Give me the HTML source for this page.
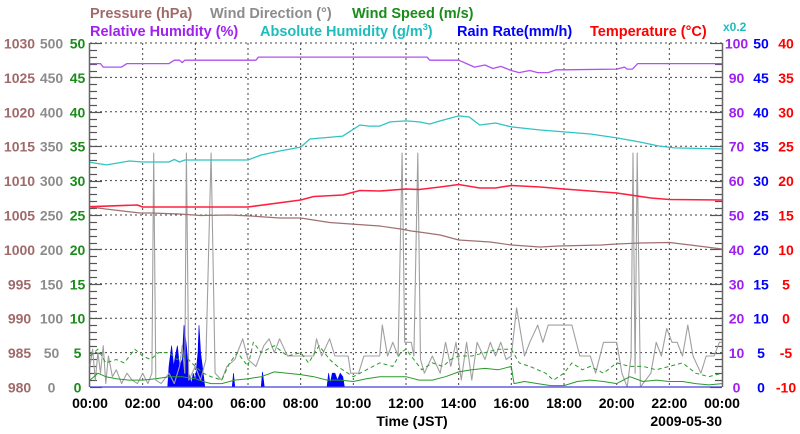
<!DOCTYPE html>
<html><head><meta charset="utf-8"><style>
html,body{margin:0;padding:0;background:#fff;}
svg{display:block;font-family:"Liberation Sans",Arial,sans-serif;font-weight:bold;}
</style></head><body>
<svg id="chart" width="800" height="434" viewBox="0 0 800 434" xmlns="http://www.w3.org/2000/svg">
<g font-size="14.5">
<text x="90" y="18" fill="#a06a6a">Pressure (hPa)</text>
<text x="210" y="18" fill="#8c8c8c">Wind Direction (°)</text>
<text x="352" y="18" fill="#1a8c1a">Wind Speed (m/s)</text>
</g>
<g font-size="14.5">
<text x="90" y="36" fill="#a020f0">Relative Humidity (%)</text>
<text x="260" y="36" fill="#20bcbc">Absolute Humidity (g/m<tspan font-size="9" dy="-6">3</tspan><tspan dy="6">)</tspan></text>
<text x="457" y="36" fill="#0000ff">Rain Rate(mm/h)</text>
<text x="590" y="36" fill="#ff0000">Temperature (°C)</text>
<text x="723" y="31" fill="#20bcbc" font-size="12">x0.2</text>
</g>
<g id="grid"></g>
<g id="ticks"></g>
<g id="series"></g>
<g id="labels" font-size="14"></g>
<text x="412" y="426" text-anchor="middle" font-size="14" fill="#000">Time (JST)</text>
<text x="722" y="426" text-anchor="end" font-size="14" fill="#000">2009-05-30</text>
</svg>
<script>
// ---- data ----
const timeTicks = ["00:00","02:00","04:00","06:00","08:00","10:00","12:00","14:00","16:00","18:00","20:00","22:00","00:00"];
const pressureTicks = [980,985,990,995,1000,1005,1010,1015,1020,1025,1030];
const windDirTicks = [0,50,100,150,200,250,300,350,400,450,500];
const windSpdTicks = [0,5,10,15,20,25,30,35,40,45,50];
const rhTicks = [0,10,20,30,40,50,60,70,80,90,100];
const rainTicks = [0,5,10,15,20,25,30,35,40,45,50];
const tempTicks = [-10,-5,0,5,10,15,20,25,30,35,40];

const rhTimes = [0,0.4,0.5,1.2,1.4,3.0,3.2,3.4,3.5,3.6,3.7,6.3,6.4,12.8,12.9,14.0,14.3,14.6,15.0,15.3,15.6,16.0,16.3,16.7,17.0,17.4,17.7,18.0,20.0,20.3,20.4,20.6,20.8,24];
const rhVals = [94.0,94.0,93.0,93.0,94.0,94.0,95.0,95.0,94.3,95.0,95.0,95.0,95.9,95.9,95.0,95.0,94.0,93.0,93.6,92.6,93.2,92.0,91.4,92.0,91.4,91.4,92.2,92.2,92.4,93.0,92.4,92.4,94.0,94.0];

const ahTimes = [0,0.63,1.5,2,3,3.2,3.4,3.6,6,6.5,7.2,8,8.35,9.6,10.25,10.6,11,11.4,12,12.5,12.9,13.3,14,14.4,14.8,15.4,16,17.1,18,19,20,20.9,21.6,22.2,24];
const ahVals = [13.06,12.91,13.14,13.08,13.08,13.23,13.08,13.20,13.20,13.49,13.72,13.95,14.42,14.59,15.23,15.17,15.17,15.41,15.47,15.41,15.29,15.47,15.76,15.70,15.23,15.35,15.12,14.94,14.83,14.71,14.48,14.24,14.01,13.90,13.84];

const tempTimes = [0,1.8,2.0,6,8,8.5,9.6,10.25,11,12,12.5,13.3,14,14.8,15.4,16,17.1,18,20,21.3,22,24];
const tempVals = [16.2,16.45,16.16,16.16,17.18,17.69,17.91,18.56,18.49,18.78,18.71,19.07,19.43,18.92,18.92,19.29,19.07,18.78,18.20,17.47,17.25,17.18];

const presTimes = [0,0.6,1.9,2.3,3.4,4.2,5.3,6.1,7.2,8,9.1,9.9,11,11.8,12.2,12.5,13.3,14,15.2,16,17.1,17.8,19.4,20,20.9,22,22.8,24];
const presVals = [1006.16,1005.87,1005.29,1005.29,1005.15,1004.93,1005.0,1004.85,1004.56,1004.56,1003.91,1003.69,1003.40,1002.97,1002.67,1002.53,1002.09,1001.37,1001.08,1000.64,1000.35,1000.49,1000.64,1000.78,1000.93,1001.0,1000.64,1000.06];

const wdTimes = [0,0.1,0.2,0.3,0.4,0.5,0.6,0.7,0.85,1.0,1.2,1.4,1.6,1.8,2.0,2.2,2.35,2.42,2.5,2.7,3.0,3.2,3.4,3.5,3.6,3.66,3.75,4.0,4.2,4.4,4.6,4.75,5.0,5.2,5.5,5.8,6.0,6.3,6.6,6.8,7.0,7.2,7.5,8.5,8.6,8.8,9.1,9.3,9.8,9.9,10.2,10.4,11.0,11.1,11.3,11.5,11.7,11.85,11.95,12.2,12.3,12.45,12.55,12.7,13.0,13.3,13.5,13.7,13.9,14.1,14.3,14.5,14.7,15.0,15.2,15.4,15.6,15.8,16.0,16.2,16.5,16.7,17.0,17.2,17.4,18.3,18.6,19.0,19.2,19.5,20.0,20.2,20.4,20.55,20.62,20.7,20.78,20.9,21.3,21.5,21.7,21.9,22.1,22.3,22.5,22.7,22.9,23.2,23.4,23.7,23.9,24];
const wdVals = [30,55,10,50,20,60,5,45,15,25,5,20,10,5,20,5,20,340,10,5,20,5,30,60,20,340,10,30,10,40,340,20,10,30,40,70,40,30,60,70,50,70,45,45,70,45,70,45,45,20,20,45,45,90,45,65,45,340,65,65,45,340,40,20,45,20,65,30,65,10,65,10,65,40,65,45,65,40,45,115,45,65,90,65,90,90,45,45,20,65,65,20,0,45,340,20,340,0,20,65,45,85,65,65,45,90,45,20,45,45,65,65];

const wsTimes = [0,0.3,0.6,1,1.5,2,2.5,3,3.5,4,4.3,4.6,5,5.5,6,6.5,7,7.5,8,8.5,9,9.5,10,10.5,11,11.5,12,12.5,13,13.5,14,14.5,15,15.5,16,16.1,16.5,17,17.5,18,18.5,19,19.5,20,20.5,21,21.5,22,22.5,23,23.5,24];
const wsVals = [1.0,2.0,1.5,1.2,1.0,1.0,1.2,1.5,1.5,1.2,0.8,0.5,0.5,1.0,1.2,1.5,2.2,2.0,1.8,1.5,1.0,1.0,0.8,1.2,1.5,1.5,1.5,1.0,1.0,1.5,2.2,2.5,2.7,2.5,3.0,0.5,0.8,0.5,0.2,0.2,0.8,1.0,0.8,0.5,1.5,0.8,1.0,0.8,0.8,0.5,0.3,0.5];

const gustTimes = [0,0.3,0.6,1,1.3,1.7,2,2.3,2.6,3,3.3,3.6,4,4.3,4.6,5,5.3,5.6,6,6.2,6.5,7,7.5,8,8.3,8.7,9.1,9.4,10,10.5,11,11.5,11.8,12,12.3,12.6,13,13.4,13.7,14,14.5,15,15.5,16,16.3,16.7,17,17.3,17.6,18,18.3,18.7,19,19.5,20,20.5,21,21.5,22,22.5,23,23.5,24];
const gustVals = [4.5,5.5,3.5,4.0,3.5,5.5,4.5,4.0,5.0,5.0,4.0,4.5,3.0,2.0,1.5,1.0,3.5,5.0,3.0,6.5,5.0,6.0,4.5,5.0,3.5,6.0,4.0,3.0,1.5,2.5,3.5,3.0,5.0,5.5,4.0,2.5,3.5,3.0,4.0,4.5,4.5,5.0,5.5,5.5,3.5,3.0,2.5,2.0,1.0,2.0,3.5,2.5,3.0,2.0,3.5,3.0,3.0,2.5,3.0,3.5,2.0,1.5,2.0];

const rainTimes = [2.95,3.0,3.1,3.18,3.24,3.32,3.4,3.5,3.57,3.66,3.75,3.85,3.92,4.0,4.1,4.14,4.2,4.3,4.36,5.4,5.45,5.5,6.5,6.55,6.62,9.0,9.06,9.12,9.2,9.3,9.4,9.5,9.6,9.66];
const rainVals = [0,3,6,3,4.5,6,3,4,9,6,2,0.5,2,1,5,9,5,2,0,0,2,0,0,2.2,0,0,2,0.5,2,2,1,2,1.5,0];

// ---- geometry ----
const X0=90, X1=722, Y0=43, Y1=387, NS="http://www.w3.org/2000/svg";
const xS = h => X0 + h*(X1-X0)/24;
const yS = (v,min,max) => Y1 - (v-min)/(max-min)*(Y1-Y0);
function mk(tag, attrs, parent){const e=document.createElementNS(NS,tag);for(const k in attrs)e.setAttribute(k,attrs[k]);parent.appendChild(e);return e;}
const grid=document.getElementById('grid'), ticks=document.getElementById('ticks'), series=document.getElementById('series'), labels=document.getElementById('labels');

// grid
for(let i=1;i<windSpdTicks.length;i++){
  const y=yS(windSpdTicks[i],0,50);
  const l=mk('line',{x1:X0,x2:X1,y1:y,y2:y,stroke:'#444','stroke-width':1,'stroke-dasharray':'2,3'},grid);
  
  
}
for(let i=1;i<timeTicks.length-1;i++){
  const x=xS(i*2);
  const l=mk('line',{x1:x,x2:x,y1:Y0,y2:Y1,stroke:'#444','stroke-width':1,'stroke-dasharray':'2,3'},grid);
  
  
}
// axes
let a=mk('line',{x1:X0-0.5,x2:X0-0.5,y1:Y0,y2:Y1,stroke:'#666','stroke-width':1.5},ticks);


a=mk('line',{x1:X1+0.5,x2:X1+0.5,y1:Y0,y2:Y1,stroke:'#666','stroke-width':1.5},ticks);


for(let v=0;v<=50;v++){
  const y=Math.round(yS(v,0,50))+0.5, len=(v%5===0)?12:7;
  let t=mk('line',{x1:X0,x2:X0+len,y1:y,y2:y,stroke:'#555','stroke-width':1.2},ticks);
  
  
  t=mk('line',{x1:X1-len,x2:X1,y1:y,y2:y,stroke:'#555','stroke-width':1.2},ticks);
  
  
}

// series
function line(times, vals, min, max, color, w, name, dash){
  const d=times.map((t,i)=>(i?'L':'M')+xS(t).toFixed(1)+','+yS(vals[i],min,max).toFixed(1)).join('');
  const p=mk('path',{d:d,fill:'none',stroke:color,'stroke-width':w,'stroke-linejoin':'round'},series);
  if(dash)p.setAttribute('stroke-dasharray',dash);
  
  
}
// rain fill
{
  let d='M'+xS(rainTimes[0]).toFixed(1)+','+Y1;
  rainTimes.forEach((t,i)=>{d+='L'+xS(t).toFixed(1)+','+yS(rainVals[i],0,50).toFixed(1);});
  d+='L'+xS(rainTimes[rainTimes.length-1]).toFixed(1)+','+Y1+'Z';
  const p=mk('path',{d:d,fill:'#0000ff',stroke:'#0000ff','stroke-width':0.6},series);
  
  
}
line(wdTimes,wdVals,0,500,'#a0a0a0',1.1,'wind-direction-line');
line(gustTimes,gustVals,0,50,'#2a9a2a',1,'wind-gust-line','4,3');
line(wsTimes,wsVals,0,50,'#2a9a2a',1,'wind-speed-line');
line(presTimes,presVals,980,1030,'#a07070',1.2,'pressure-line');
line(tempTimes,tempVals,-10,40,'#ff2040',1.6,'temperature-line');
line(ahTimes,ahVals.map(v=>v*5),0,100,'#30c4c4',1.3,'absolute-humidity-line');
line(rhTimes,rhVals,0,100,'#b050f0',1.3,'relative-humidity-line');
{
  const b=mk('line',{x1:X0,x2:X1,y1:Y1,y2:Y1,stroke:'#4040e0','stroke-width':1.2},series);
  
  
}

// tick labels
function lab(txt,x,y,color,name){
  const t=mk('text',{x:x,y:y,fill:color,'text-anchor':'middle'},labels);
  t.textContent=txt;
  
  
}
for(let i=0;i<11;i++){
  const y=yS(windSpdTicks[i],0,50)+5.5;
  lab(pressureTicks[i],19.5,y,'#a06a6a','pressure-tick-label');
  lab(windDirTicks[i],51.5,y,'#8c8c8c','wind-direction-tick-label');
  lab(windSpdTicks[i],77.5,y,'#1a8c1a','wind-speed-tick-label');
  lab(rhTicks[i],736.5,y,'#a020f0','humidity-tick-label');
  lab(rainTicks[i],761,y,'#0000ff','rain-tick-label');
  lab(tempTicks[i],786,y,'#ff0000','temperature-tick-label');
}
timeTicks.forEach((t,i)=>lab(t,xS(i*2),408,'#000','time-tick-label'));
</script>
</body></html>
